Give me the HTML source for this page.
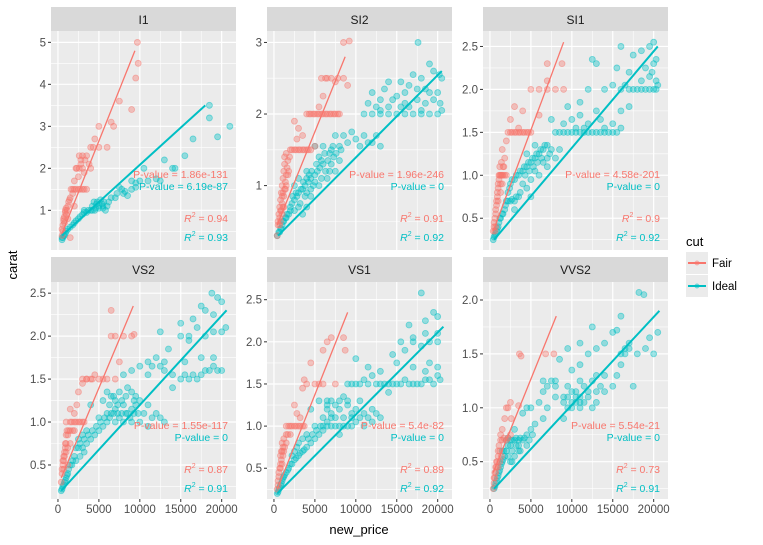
<!DOCTYPE html>
<html><head><meta charset="utf-8">
<style>
body{margin:0;background:#fff;}
svg{display:block;font-family:"Liberation Sans",Arial,sans-serif;}
</style></head>
<body>
<svg id="chart" width="763" height="545" viewBox="0 0 763 545"></svg>
<script>
const facets = ["I1","SI2","SI1","VS2","VS1","VVS2"];
const yTicks = [[1,2,3,4,5],[1,2,3],[0.5,1.0,1.5,2.0,2.5],[0.5,1.0,1.5,2.0,2.5],[0.5,1.0,1.5,2.0,2.5],[0.5,1.0,1.5,2.0]];
const yDomains = [[0.055,5.27],[0.10,3.16],[0.13,2.68],[0.104,2.63],[0.135,2.71],[0.154,2.167]];
const xTicks = [0,5000,10000,15000,20000];
const xDomain = [-850,21750];
const pFair = ["P-value = 1.86e-131","P-value = 1.96e-246","P-value = 4.58e-201","P-value = 1.55e-117","P-value = 5.4e-82","P-value = 5.54e-21"];
const pIdeal = ["P-value = 6.19e-87","P-value = 0","P-value = 0","P-value = 0","P-value = 0","P-value = 0"];
const r2Fair = ["0.94","0.91","0.9","0.87","0.89","0.73"];
const r2Ideal = ["0.93","0.92","0.92","0.91","0.92","0.91"];
const lineFair = [[500,0.45,9400,4.8],[400,0.45,8700,2.8],[400,0.35,9000,2.55],[400,0.35,9200,2.35],[400,0.25,9000,2.35],[400,0.4,8100,1.85]];
const lineIdeal = [[500,0.4,18000,3.5],[500,0.3,20500,2.6],[500,0.25,20500,2.5],[400,0.2,20600,2.3],[400,0.2,20700,2.18],[500,0.25,20700,1.9]];
const fairPts = [
[[600,0.5],[800,0.7],[1000,0.9],[1100,1.0],[1300,1.2],[1500,1.3],[2000,1.5],[2500,1.5],[3000,1.5],[3500,1.5],[2500,1.8],[3000,2.0],[3300,2.2],[3500,2.3],[4000,2.0],[4000,2.5],[4500,2.7],[5000,2.5],[6000,2.5],[5000,3.0],[6500,3.1],[6800,3.0],[7500,3.6],[9000,3.4],[9500,4.15],[9800,4.5],[9700,5.0],[1500,0.35],[700,0.8],[2000,1.1],[1800,1.4],[900,1.0],[1200,0.8],[2200,2.0],[2800,2.1]],
[[400,0.3],[500,0.45],[700,0.55],[800,0.65],[1000,0.75],[1200,0.85],[1300,0.95],[1400,1.05],[1500,1.15],[1600,1.25],[1700,1.35],[1900,1.4],[2000,1.5],[2500,1.5],[3000,1.5],[3500,1.5],[4000,1.5],[4500,1.5],[5000,1.55],[2800,1.65],[3000,1.8],[3500,1.7],[2500,1.9],[4000,2.0],[4500,2.0],[5000,2.0],[5500,2.0],[6000,2.0],[6500,2.0],[7000,2.0],[7500,2.0],[8000,2.0],[5500,2.1],[6000,2.25],[5800,2.5],[6500,2.5],[7000,2.5],[7500,2.45],[8500,2.5],[9000,2.4],[8500,3.0],[9200,3.02],[1000,0.6],[1200,0.7],[700,0.45],[1300,1.3],[1100,0.9],[1500,1.0],[1800,1.2]],
[[400,0.35],[500,0.45],[700,0.55],[800,0.65],[900,0.75],[1000,0.85],[1100,0.95],[1300,1.0],[1500,1.0],[1800,1.0],[2000,1.0],[1200,1.1],[1800,1.2],[1500,1.3],[2000,1.4],[2500,1.5],[3000,1.5],[3500,1.5],[4000,1.5],[4500,1.5],[5000,1.5],[2500,1.65],[3000,1.8],[4000,1.75],[5000,2.0],[6000,2.0],[7000,2.0],[8000,2.0],[9000,2.0],[7000,2.1],[7000,2.3],[8800,2.3],[6000,1.7],[3500,1.55],[700,0.4],[1000,0.7],[1300,0.9],[1600,1.1]],
[[400,0.3],[500,0.4],[600,0.5],[700,0.55],[800,0.6],[900,0.7],[1000,0.75],[1200,0.85],[1500,0.9],[1800,0.9],[2000,0.9],[1500,1.0],[2000,1.0],[2500,1.0],[3000,1.0],[3200,1.0],[2000,1.1],[2300,1.2],[1500,1.15],[2500,1.35],[3000,1.5],[3500,1.5],[4000,1.5],[4500,1.55],[5000,1.5],[6000,1.5],[7000,1.5],[3000,1.45],[6500,2.3],[6500,2.0],[7000,2.0],[8000,2.0],[9000,2.0],[9300,2.02],[7500,1.7],[1200,0.5],[1000,0.65],[700,0.45]],
[[400,0.25],[500,0.35],[600,0.45],[800,0.5],[900,0.6],[1000,0.7],[1100,0.75],[1200,0.85],[1500,0.9],[1800,1.0],[2000,1.0],[2500,1.0],[3000,1.0],[3500,1.0],[3200,1.1],[2800,1.15],[2500,1.25],[3500,1.45],[4000,1.5],[3700,1.55],[5000,1.5],[5500,1.5],[6000,1.5],[7500,1.5],[4500,1.75],[6000,1.9],[6500,2.0],[7000,2.05],[8500,2.05],[8700,1.9],[1500,0.8],[800,0.65],[1000,0.55]],
[[400,0.25],[500,0.35],[600,0.4],[700,0.45],[800,0.5],[1000,0.55],[1200,0.6],[1500,0.7],[2000,0.7],[2500,0.75],[1500,0.8],[1800,0.9],[2000,1.0],[2200,1.0],[2500,1.05],[3500,1.02],[3600,1.5],[3800,1.48],[6800,1.5],[7800,1.5],[1300,0.75],[1000,0.45],[2600,0.9]]
];
const fairPtsExtra = [
[[500,0.55],[600,0.65],[700,0.75],[800,0.85],[900,0.95],[1000,1.05],[1200,1.1],[1400,1.25],[1600,1.5],[1800,1.5],[2200,1.5],[2700,1.5],[3200,1.5],[2000,1.7],[2300,2.0],[2600,2.0],[2800,2.2],[3000,2.3],[3200,1.9],[3800,2.1],[2600,2.3],[4300,2.5],[500,0.4]],
[[500,0.5],[600,0.6],[700,0.7],[800,0.8],[900,0.9],[1000,1.0],[1100,1.1],[1200,1.2],[1300,1.4],[1500,1.45],[800,0.5],[900,0.65],[1000,0.85],[1100,0.7],[1400,0.95],[1700,1.15],[2200,1.5],[2700,1.5],[3200,1.5],[3700,1.5],[4200,1.5],[4300,2.0],[4800,2.0],[5300,2.0],[5800,2.0],[6300,2.0],[6800,2.0],[7300,2.0],[7800,2.0],[6300,2.5],[7800,2.5]],
[[500,0.4],[600,0.5],[700,0.6],[800,0.7],[900,0.8],[1000,0.9],[1100,1.0],[1200,1.0],[1400,1.0],[1600,1.0],[1700,1.1],[1400,1.15],[1300,0.8],[1500,0.9],[2700,1.5],[3200,1.5],[3700,1.5],[4200,1.5],[4700,1.5],[2200,1.5],[600,0.35]],
[[500,0.45],[600,0.55],[700,0.6],[800,0.65],[900,0.75],[1000,0.85],[1100,0.9],[1300,0.9],[1700,1.0],[2200,1.0],[2700,1.0],[1200,0.7],[1500,0.75],[1000,1.0],[3500,1.5],[4200,1.5],[5500,1.5]],
[[500,0.3],[600,0.4],[700,0.5],[800,0.55],[900,0.7],[1000,0.8],[1100,0.65],[1200,0.7],[1300,0.75],[1500,1.0],[1700,0.9],[2200,1.0],[2700,1.0],[3200,1.0],[3700,1.0],[2000,0.9]],
[[500,0.3],[600,0.35],[700,0.4],[800,0.45],[900,0.5],[1000,0.6],[1100,0.65],[1300,0.7],[1700,0.72],[2200,0.72],[1400,0.55],[1200,0.5]]
];
const idealPts = [
[[500,0.3],[600,0.35],[800,0.4],[1000,0.5],[1500,0.6],[2000,0.7],[2500,0.8],[3000,0.9],[3500,0.95],[4000,1.0],[4500,1.0],[5000,1.05],[5500,1.1],[4800,1.2],[5200,1.25],[6000,1.1],[7000,1.3],[8000,1.4],[9000,1.5],[9500,1.65],[10000,1.7],[11000,1.7],[12000,1.75],[10500,2.0],[13000,2.2],[14000,2.0],[15500,2.3],[16500,2.7],[18500,3.2],[18500,3.5],[19500,2.75],[21000,3.0],[8500,1.35],[7500,1.55],[4200,1.1],[5800,1.0],[3200,1.0],[14300,2.0],[12500,1.7]],
[[400,0.3],[600,0.35],[800,0.4],[1000,0.45],[1200,0.5],[1500,0.55],[1800,0.6],[2000,0.7],[2200,0.75],[2500,0.8],[2800,0.85],[3000,0.9],[3200,0.75],[3500,0.95],[3800,1.0],[4000,0.9],[4200,1.05],[4500,1.1],[4800,1.0],[5000,1.15],[5300,1.2],[5600,1.25],[6000,1.3],[6300,1.2],[6600,1.35],[7000,1.3],[7300,1.4],[2500,1.0],[3000,1.1],[4000,1.2],[5500,1.4],[5000,1.55],[6000,1.55],[7000,1.5],[8000,1.55],[9000,1.6],[10000,1.65],[11000,1.7],[12000,1.6],[13000,1.55],[8500,1.7],[9500,1.75],[7500,1.7],[11000,2.0],[12000,2.0],[13000,2.0],[14000,2.0],[15000,2.0],[16000,2.0],[17000,2.0],[18000,2.0],[19000,2.0],[20000,2.0],[20500,2.05],[12500,2.1],[14500,2.2],[16000,2.3],[17500,2.2],[19000,2.3],[20300,2.15],[13500,2.35],[15500,2.45],[18000,2.5],[19500,2.6],[20200,2.55],[14000,2.45],[12000,2.3],[17000,2.55],[19000,2.7],[17600,3.0],[11500,2.15],[16500,2.1],[18500,2.15],[6500,1.1],[7500,1.2],[8000,1.35],[4000,0.7],[3500,0.6],[2500,0.65],[3000,0.7],[4500,0.85],[5500,1.0],[15500,2.1],[17500,2.35],[13000,2.2]],
[[400,0.25],[600,0.3],[800,0.35],[1000,0.4],[1200,0.5],[1500,0.55],[1800,0.6],[2000,0.7],[2500,0.7],[3000,0.7],[3500,0.75],[2200,0.8],[2500,0.9],[3000,0.95],[3500,1.0],[4000,1.05],[4500,1.1],[5000,1.15],[5500,1.2],[6000,1.25],[6500,1.3],[7000,1.35],[7500,1.3],[4000,0.9],[5000,0.95],[6000,1.0],[7000,1.1],[4500,1.25],[5500,1.35],[8000,1.2],[8500,1.3],[5000,0.75],[3000,0.6],[8000,1.5],[9000,1.5],[10000,1.5],[11000,1.5],[12000,1.5],[13000,1.5],[14000,1.5],[15000,1.5],[16000,1.55],[9000,1.6],[10000,1.65],[11000,1.7],[12000,1.6],[13500,1.65],[15000,1.6],[9500,1.8],[11000,1.85],[13000,1.75],[16000,1.75],[17000,1.8],[7500,1.65],[12000,2.0],[14000,2.0],[15000,2.05],[16000,2.0],[17000,2.0],[18000,2.0],[19000,2.0],[20000,2.0],[20500,2.05],[18500,2.1],[19500,2.15],[20000,2.3],[17000,2.2],[15500,2.25],[13000,2.3],[12500,2.35],[17500,2.4],[18500,2.45],[19500,2.5],[20000,2.55],[16000,2.5],[19000,2.25],[20300,2.1],[14000,1.55],[11500,1.55],[10500,1.55],[6500,1.15],[7000,1.2],[5500,1.05],[4500,0.85]],
[[400,0.2],[600,0.25],[800,0.3],[1000,0.35],[1200,0.4],[1500,0.5],[1800,0.55],[2000,0.6],[2500,0.7],[3000,0.7],[3500,0.75],[4000,0.8],[4500,0.85],[2500,0.8],[3000,0.85],[3500,0.9],[5000,0.9],[5500,0.95],[6000,1.0],[7000,1.0],[8000,1.0],[9000,1.0],[10000,1.0],[11000,0.95],[5000,1.05],[6000,1.1],[7000,1.15],[8000,1.2],[9000,1.15],[10000,1.25],[11000,1.2],[12000,1.1],[5500,1.25],[6500,1.3],[7500,1.35],[8500,1.4],[9500,1.3],[7000,1.25],[13000,1.0],[4000,1.2],[8000,1.55],[9000,1.6],[10000,1.65],[11000,1.7],[12000,1.75],[13000,1.6],[14000,1.55],[15000,1.5],[16000,1.5],[17000,1.5],[18000,1.6],[19000,1.65],[20000,1.6],[11000,1.55],[13000,1.7],[15500,1.7],[17500,1.75],[19000,1.75],[14000,1.4],[12500,2.05],[15000,2.0],[16000,2.0],[17000,2.1],[18000,2.0],[19000,2.05],[20000,2.05],[20500,2.1],[15000,2.15],[16500,2.2],[18000,2.3],[19000,2.25],[20000,2.4],[17500,2.35],[18800,2.5],[19500,2.45],[16000,1.95],[13500,1.85],[6500,1.1],[8500,1.1],[9500,1.2],[7500,1.05]],
[[400,0.2],[600,0.25],[800,0.3],[1000,0.35],[1200,0.4],[1500,0.45],[1800,0.5],[2000,0.55],[2500,0.6],[3000,0.65],[3500,0.7],[4000,0.75],[4500,0.8],[5000,0.85],[5500,0.9],[6000,0.95],[2500,0.7],[3000,0.8],[4000,0.9],[5000,1.0],[6000,1.0],[7000,1.0],[8000,1.0],[9000,1.0],[10000,1.05],[11000,1.0],[12000,1.05],[6000,1.1],[7000,1.15],[8000,1.2],[9000,1.25],[10000,1.2],[11000,1.15],[12000,1.2],[13000,1.1],[5500,1.3],[6500,1.3],[7500,1.25],[8500,1.35],[4500,1.2],[9000,1.5],[10000,1.5],[11000,1.55],[12000,1.6],[13000,1.5],[14000,1.5],[15000,1.5],[16000,1.55],[17000,1.5],[18000,1.5],[19000,1.55],[20000,1.6],[11500,1.7],[13000,1.65],[15000,1.75],[17000,1.7],[19000,1.75],[20000,1.7],[14500,1.85],[16000,1.9],[18000,1.95],[19000,2.0],[20000,2.0],[17000,2.05],[16500,2.2],[18500,2.25],[19500,2.35],[20000,2.3],[15500,2.0],[18000,2.58],[10000,1.8],[8000,0.9],[14000,1.4],[7000,1.1],[9500,1.1],[6500,1.2]],
[[500,0.25],[700,0.3],[900,0.35],[1100,0.4],[1300,0.45],[1500,0.5],[1800,0.55],[2000,0.6],[2500,0.65],[3000,0.7],[3500,0.7],[4000,0.7],[4500,0.75],[2500,0.5],[3000,0.55],[3500,0.6],[1500,0.6],[2000,0.7],[5000,0.8],[5500,0.85],[4000,0.95],[4500,1.0],[5000,1.0],[6000,1.05],[6500,1.15],[7000,1.2],[7500,1.25],[8000,1.2],[6500,0.9],[8000,1.1],[9000,1.05],[10000,1.0],[11000,1.05],[12000,1.1],[13000,1.15],[9500,1.1],[10500,1.15],[11500,1.2],[12500,1.25],[13500,1.2],[14000,1.3],[15000,1.2],[10000,1.05],[11000,1.0],[12500,1.0],[9000,0.9],[10000,1.35],[11000,1.4],[12000,1.5],[13000,1.55],[14000,1.6],[15000,1.7],[16000,1.5],[17000,1.55],[16500,1.5],[16000,1.85],[15500,1.72],[18000,1.5],[19000,1.55],[20000,1.5],[20500,1.7],[19500,1.65],[18200,2.07],[18800,2.05],[12500,1.75],[11000,1.6],[8500,1.45],[9500,1.55],[17500,1.2],[16000,1.4],[7000,1.0],[2500,0.7],[3500,0.65],[10500,1.1]]
];
const idealPtsExtra = [
[[500,0.35],[700,0.4],[900,0.45],[1200,0.55],[1800,0.65],[2200,0.75],[2700,0.85],[3200,0.95],[3700,1.0],[4200,1.0],[4600,1.05],[5000,1.1],[5400,1.15],[4400,1.2],[5600,1.2],[6200,1.2],[6500,1.3],[7200,1.4],[7800,1.5],[8200,1.45],[9500,1.55],[9000,1.7],[5500,1.05],[4700,1.15]],
[[1400,0.55],[1600,0.6],[2000,0.65],[2300,0.85],[2700,0.9],[3300,0.95],[3600,1.05],[4000,1.1],[4300,1.15],[4600,1.2],[5200,1.3],[5800,1.35],[6200,1.45],[6800,1.45],[7200,1.55],[7600,1.45],[8200,1.5],[3800,0.85],[4500,0.95],[5000,1.05],[5800,1.1],[6800,1.2],[10500,1.55],[11500,1.6],[12500,1.7],[14000,2.1],[15000,2.25],[16500,2.4],[18500,2.35],[19500,2.2],[20000,2.3],[20500,2.5],[18000,2.05],[16000,2.15],[13000,2.05],[1100,0.5],[900,0.4],[700,0.35]],
[[500,0.28],[700,0.32],[900,0.38],[1100,0.45],[1300,0.5],[1600,0.55],[1900,0.65],[2200,0.7],[2700,0.72],[3200,0.75],[3700,0.8],[2400,0.85],[2700,0.95],[3200,1.0],[3700,1.05],[4200,1.1],[4700,1.15],[5200,1.2],[5700,1.25],[6200,1.3],[6700,1.35],[4300,1.0],[4800,1.05],[5300,1.1],[5800,1.15],[6300,1.2],[7300,1.25],[8500,1.5],[9500,1.5],[10500,1.5],[11500,1.5],[12500,1.5],[13500,1.5],[14500,1.5],[15500,1.5],[17500,2.0],[18500,2.0],[19500,2.0],[20300,2.0],[16500,2.05],[19800,2.2],[20300,2.35]],
[[500,0.22],[700,0.27],[900,0.32],[1100,0.38],[1300,0.45],[1700,0.5],[2200,0.55],[2700,0.6],[3200,0.65],[2200,0.7],[2700,0.75],[3200,0.8],[3700,0.85],[4200,0.9],[4700,0.95],[5200,1.0],[5700,1.05],[6300,1.05],[6800,1.1],[7300,1.1],[7800,1.1],[8300,1.1],[8800,1.05],[9300,1.1],[9800,1.1],[6300,1.2],[6800,1.3],[7300,1.2],[7800,1.25],[8300,1.3],[9300,1.25],[10500,1.1],[11500,1.05],[12500,1.05],[6000,1.35],[9000,1.35],[15500,1.55],[16500,1.55],[17500,1.55],[18500,1.6],[19500,1.6],[11500,1.65],[12500,1.65]],
[[500,0.22],[700,0.27],[900,0.32],[1100,0.38],[1300,0.42],[1700,0.48],[2200,0.55],[2700,0.62],[3200,0.68],[3700,0.72],[2200,0.65],[2800,0.75],[3500,0.85],[4200,0.85],[4700,0.9],[5200,0.95],[5700,1.0],[6500,1.0],[7500,1.0],[8500,1.0],[9500,1.0],[6500,1.05],[7500,1.1],[8500,1.1],[9500,1.15],[10500,1.1],[11500,1.1],[6500,1.25],[7000,1.3],[8000,1.3],[9000,1.3],[10500,1.3],[12500,1.15],[9500,1.5],[10500,1.5],[11500,1.5],[12500,1.5],[13500,1.5],[14500,1.5],[15500,1.5],[16500,1.5],[17500,1.5],[18500,1.55],[19500,1.5],[20300,1.55],[18500,1.65],[17000,2.0],[18500,2.1],[20000,2.1]],
[[600,0.27],[800,0.32],[1000,0.37],[1200,0.42],[1400,0.48],[1600,0.52],[2200,0.55],[2700,0.6],[3200,0.65],[1700,0.6],[2200,0.65],[2700,0.7],[2200,0.72],[3200,0.72],[3700,0.72],[4200,0.72],[4800,0.7],[5200,0.75],[3000,0.8],[2700,0.5],[3700,0.6],[4500,0.65],[9500,1.0],[10500,1.05],[11500,1.05],[9000,1.1],[10000,1.15],[11000,1.1],[12000,1.15],[13000,1.05],[9500,1.2],[11000,1.25],[13000,1.3],[14000,1.15],[15500,1.3],[6500,1.25],[8000,1.25],[17000,1.6],[16500,1.55]]
];

const NS = "http://www.w3.org/2000/svg";
const svg = document.getElementById("chart");
const FAIR = "#F8766D", IDEAL = "#00BFC4";
function mk(tag, attrs, parent){ const e=document.createElementNS(NS,tag); for(const k in attrs) e.setAttribute(k,attrs[k]); (parent||svg).appendChild(e); return e; }

const colX = [51,267,483], PW = 185;
const rows = [{st:7,top:31,bot:250},{st:257,top:282,bot:499}];

facets.forEach((f,i)=>{
  const c=i%3, r=Math.floor(i/3);
  const L=colX[c], R=L+PW, T=rows[r].top, B=rows[r].bot;
  const g=mk("g",{});
  
  
  const xs=v=>L+(v-xDomain[0])/(xDomain[1]-xDomain[0])*PW;
  const yd=yDomains[i];
  const ys=v=>B-(v-yd[0])/(yd[1]-yd[0])*(B-T);
  const strip=mk("rect",{x:L,y:rows[r].st,width:PW,height:T-rows[r].st,fill:"#D9D9D9"},g);
  
  
  const st=mk("text",{x:L+PW/2,y:rows[r].st+17,"text-anchor":"middle","font-size":"12",fill:"#1A1A1A"},g);
  st.textContent=f;
  
  
  const bg=mk("rect",{x:L,y:T,width:PW,height:B-T,fill:"#EBEBEB"},g);
  
  
  for(let k=0;k<xTicks.length;k++){
    const mv=xTicks[k]+2500; if(mv<xDomain[1]) mk("line",{x1:xs(mv),x2:xs(mv),y1:T,y2:B,stroke:"#fff","stroke-width":0.6},g);
  }
  const yt=yTicks[i], step=yt[1]-yt[0];
  for(let k=-1;k<yt.length;k++){
    const mv=yt[0]+step*(k+0.5);
    if(mv>yd[0]&&mv<yd[1]) mk("line",{x1:L,x2:R,y1:ys(mv),y2:ys(mv),stroke:"#fff","stroke-width":0.6},g);
  }
  xTicks.forEach(t=>{ mk("line",{x1:xs(t),x2:xs(t),y1:T,y2:B,stroke:"#fff","stroke-width":1.2},g);
    if(r===1){ mk("line",{x1:xs(t),x2:xs(t),y1:B,y2:B+3,stroke:"#333","stroke-width":1},g);
      const tl=mk("text",{x:xs(t),y:B+14,"text-anchor":"middle","font-size":"11.5",fill:"#4D4D4D"},g); tl.textContent=t;
      
       }
  });
  yt.forEach(t=>{ mk("line",{x1:L,x2:R,y1:ys(t),y2:ys(t),stroke:"#fff","stroke-width":1.2},g);
    mk("line",{x1:L-3,x2:L,y1:ys(t),y2:ys(t),stroke:"#333","stroke-width":1},g);
    const tl=mk("text",{x:L-5,y:ys(t)+4,"text-anchor":"end","font-size":"11.5",fill:"#4D4D4D"},g);
    tl.textContent = (i===0||i===1)? String(t) : t.toFixed(1);
    
    
  });
  [[idealPts[i].concat(idealPtsExtra[i]),IDEAL],[fairPts[i].concat(fairPtsExtra[i]),FAIR]].forEach(([pts,col])=>{
    pts.forEach(p=>{
      const cc=mk("circle",{cx:xs(p[0]),cy:ys(p[1]),r:3,fill:col,"fill-opacity":0.38,stroke:col,"stroke-opacity":0.5,"stroke-width":0.8},g);
      
      
    });
  });
  const lf=lineFair[i], li=lineIdeal[i];
  const l1=mk("line",{x1:xs(lf[0]),y1:ys(lf[1]),x2:xs(lf[2]),y2:ys(lf[3]),stroke:FAIR,"stroke-width":1.3},g);
  
  
  const l2=mk("line",{x1:xs(li[0]),y1:ys(li[1]),x2:xs(li[2]),y2:ys(li[3]),stroke:IDEAL,"stroke-width":2},g);
  
  
  const ann=[[pFair[i],FAIR,143,false],[pIdeal[i],IDEAL,155,false],[r2Fair[i],FAIR,187,true],[r2Ideal[i],IDEAL,206,true]];
  ann.forEach(a=>{
    const t=mk("text",{x:R-8,y:T+a[2]+4,"text-anchor":"end","font-size":"10.5",fill:a[1]},g);
    if(a[3]){ t.innerHTML='<tspan font-style="italic">R</tspan><tspan dy="-5" font-size="7">2</tspan><tspan dy="5"> = '+a[0]+'</tspan>'; }
    else t.textContent=a[0];
    
    
  });
});

const xt=mk("text",{x:359,y:534,"text-anchor":"middle","font-size":"13",fill:"#000"});
xt.textContent="new_price";


const yt=mk("text",{x:0,y:0,"text-anchor":"middle","font-size":"13",fill:"#000",transform:"translate(17,265) rotate(-90)"});
yt.textContent="carat";



const lg=mk("g",{});


const lt=mk("text",{x:686,y:246,"font-size":"13",fill:"#000"},lg);
lt.textContent="cut";


[["Fair",FAIR,252],["Ideal",IDEAL,275]].forEach(e=>{
  const eg=mk("g",{},lg);
  
  
  mk("rect",{x:686,y:e[2],width:22,height:22,fill:"#EBEBEB"},eg);
  mk("line",{x1:688,x2:706,y1:e[2]+11,y2:e[2]+11,stroke:e[1],"stroke-width":2},eg);
  mk("circle",{cx:697,cy:e[2]+11,r:2.5,fill:e[1],"fill-opacity":0.5},eg);
  const t=mk("text",{x:712,y:e[2]+15,"font-size":"11.5",fill:"#000"},eg); t.textContent=e[0];
});
</script>
</body></html>
